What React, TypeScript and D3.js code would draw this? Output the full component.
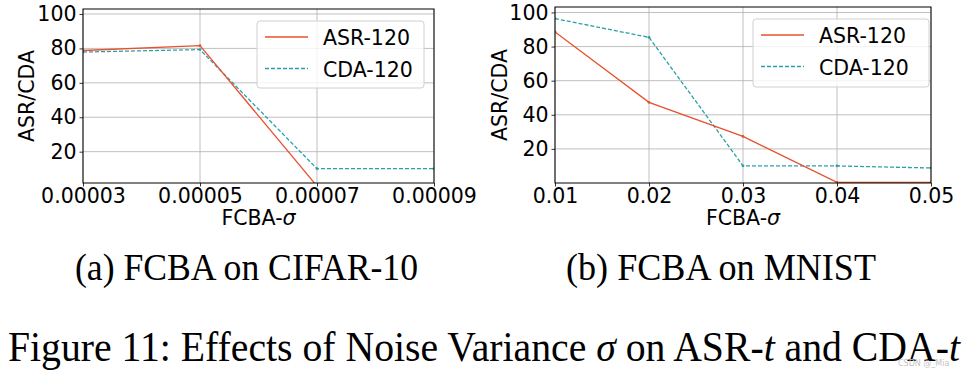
import React, { useEffect, useRef } from 'react';
import * as d3 from 'd3';

// values
const cifarSigma = [0.00003, 0.00005, 0.00007, 0.00009];
const cifarAsr = [78.8, 81.6, 0, 0];
const cifarCda = [77.9, 79.3, 10.1, 10.1];

const mnistSigma = [0.01, 0.02, 0.03, 0.04, 0.05];
const mnistAsr = [88.6, 47.3, 27.3, 0.4, 0.4];
const mnistCda = [96.4, 85.4, 10.1, 10.0, 8.8];

const yTicks = [20, 40, 60, 80, 100];
const seriesNames = ['ASR-120', 'CDA-120'];
const subCaptions = ['(a) FCBA on CIFAR-10', '(b) FCBA on MNIST'];

const ASR_COLOR = '#e8512f';
const CDA_COLOR = '#2aa0a6';
const FONT = 'DejaVu Sans';

const App = () => {
  const ref = useRef<SVGSVGElement>(null);

  useEffect(() => {
    const svg = d3.select(ref.current);
    svg.selectAll('*').remove();

    const panels = [
      { xs: cifarSigma, asr: cifarAsr, cda: cifarCda, fmt: d3.format('.5f'),
        left: 83, right: 434, top: 9, bottom: 183, yMin: 1.8, yMax: 102.9, yLabelX: 27,
        legend: { x: 257, y: 21, w: 167, h: 67 }, cap: { x: 75, w: 343 } },
      { xs: mnistSigma, asr: mnistAsr, cda: mnistCda, fmt: d3.format('.2f'),
        left: 555, right: 931, top: 7, bottom: 183, yMin: 0, yMax: 103.2, yLabelX: 500,
        legend: { x: 753, y: 19, w: 176, h: 68 }, cap: { x: 566, w: 310 } },
    ];

    panels.forEach((p, i) => {
      const x = d3.scaleLinear().domain(d3.extent(p.xs) as [number, number]).range([p.left, p.right]);
      const y = d3.scaleLinear().domain([p.yMin, p.yMax]).range([p.bottom, p.top]);
      const g = svg.append('g');
      const clipId = `clip${i}`;
      g.append('clipPath').attr('id', clipId)
        .append('rect').attr('x', p.left).attr('y', p.top)
        .attr('width', p.right - p.left).attr('height', p.bottom - p.top);

      // grid
      g.selectAll('.gx').data(p.xs).join('line')
        .attr('x1', d => x(d)).attr('x2', d => x(d))
        .attr('y1', p.top).attr('y2', p.bottom)
        .attr('stroke', '#b0b0b0').attr('stroke-width', 0.8);
      g.selectAll('.gy').data(yTicks).join('line')
        .attr('x1', p.left).attr('x2', p.right)
        .attr('y1', d => y(d)).attr('y2', d => y(d))
        .attr('stroke', '#b0b0b0').attr('stroke-width', 0.8);

      const line = d3.line<number>().x((_, j) => x(p.xs[j])).y(d => y(d));
      const lines = g.append('g').attr('clip-path', `url(#${clipId})`);
      lines.append('path').attr('d', line(p.cda)).attr('fill', 'none')
        .attr('stroke', CDA_COLOR).attr('stroke-width', 1.3).attr('stroke-dasharray', '4,2');
      lines.append('path').attr('d', line(p.asr)).attr('fill', 'none')
        .attr('stroke', ASR_COLOR).attr('stroke-width', 1.3);
      [[p.asr, ASR_COLOR], [p.cda, CDA_COLOR]].forEach(([vals, c]) => {
        lines.selectAll(null).data(vals as number[]).join('circle')
          .attr('cx', (_, j) => x(p.xs[j])).attr('cy', d => y(d)).attr('r', 1.4)
          .attr('fill', c as string);
      });

      // spines
      g.append('rect').attr('x', p.left).attr('y', p.top)
        .attr('width', p.right - p.left).attr('height', p.bottom - p.top)
        .attr('fill', 'none').attr('stroke', '#000').attr('stroke-width', 1);

      // axes
      const xAxis = g.append('g').attr('transform', `translate(0,${p.bottom})`)
        .call(d3.axisBottom(x).tickValues(p.xs).tickFormat(d => p.fmt(d as number)).tickSize(3.5).tickPadding(2));
      const yAxis = g.append('g').attr('transform', `translate(${p.left},0)`)
        .call(d3.axisLeft(y).tickValues(yTicks).tickSize(3.5).tickPadding(3));
      [xAxis, yAxis].forEach(a => {
        a.select('.domain').remove();
        a.selectAll('text').attr('font-family', FONT).attr('font-size', 20.5).attr('fill', '#000');
        a.selectAll('line').attr('stroke', '#000').attr('stroke-width', 0.8);
      });

      const xl = g.append('text').attr('x', (p.left + p.right) / 2).attr('y', 225)
        .attr('text-anchor', 'middle').attr('font-family', FONT).attr('font-size', 20.5);
      xl.append('tspan').text('FCBA-');
      xl.append('tspan').attr('font-style', 'italic').text('σ');

      g.append('text')
        .attr('transform', `translate(${p.yLabelX + 7},${(p.top + p.bottom) / 2}) rotate(-90)`)
        .attr('text-anchor', 'middle').attr('font-family', FONT).attr('font-size', 20.5)
        .text('ASR/CDA');

      // legend
      const L = p.legend;
      const lg = g.append('g');
      lg.append('rect').attr('x', L.x).attr('y', L.y).attr('width', L.w).attr('height', L.h)
        .attr('rx', 3).attr('fill', 'rgba(255,255,255,0.8)').attr('stroke', '#d0d0d0').attr('stroke-width', 1);
      seriesNames.forEach((name, k) => {
        const ly = L.y + 16 + k * 31.5;
        lg.append('line').attr('x1', L.x + 8).attr('x2', L.x + 51).attr('y1', ly).attr('y2', ly)
          .attr('stroke', k === 0 ? ASR_COLOR : CDA_COLOR).attr('stroke-width', 1.3)
          .attr('stroke-dasharray', k === 0 ? null : '4,2');
        lg.append('text').attr('x', L.x + 66).attr('y', ly + 8).attr('font-family', FONT)
          .attr('font-size', 20.5).text(name);
      });

      svg.append('text').attr('x', p.cap.x).attr('y', 280)
        .attr('font-family', 'Liberation Serif').attr('font-size', 38)
        .attr('textLength', p.cap.w).attr('lengthAdjust', 'spacingAndGlyphs')
        .text(subCaptions[i]);
    });

    const cap = svg.append('text').attr('x', 8).attr('y', 361)
      .attr('font-family', 'Liberation Serif').attr('font-size', 42)
      .attr('textLength', 952).attr('lengthAdjust', 'spacingAndGlyphs');
    cap.append('tspan').text('Figure 11: Effects of Noise Variance ');
    cap.append('tspan').attr('font-style', 'italic').text('σ');
    cap.append('tspan').text(' on ASR-');
    cap.append('tspan').attr('font-style', 'italic').text('t');
    cap.append('tspan').text(' and CDA-');
    cap.append('tspan').attr('font-style', 'italic').text('t');

    svg.append('text').attr('x', 898).attr('y', 366).attr('font-family', FONT)
      .attr('font-size', 8).attr('fill', '#c4c4c4').text('CSDN @_Mia');
  }, []);

  return (
    <svg ref={ref} width={974} height={371}
      style={{ position: 'absolute', left: 0, top: 0, background: '#fff' }} />
  );
};

export default App;
